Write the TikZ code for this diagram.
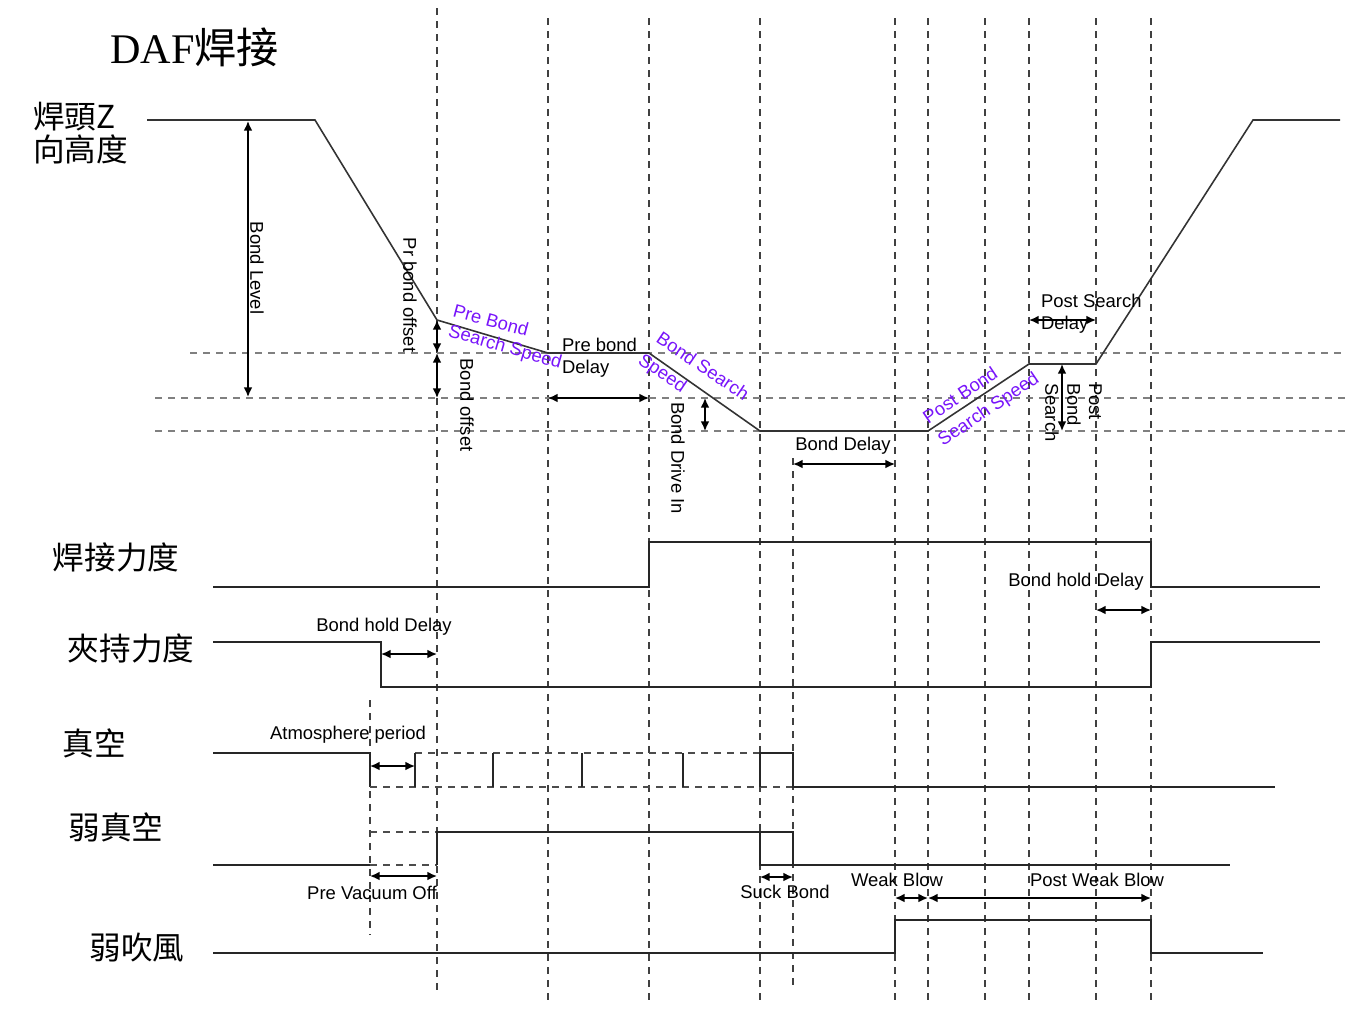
\documentclass[tikz,border=0pt]{standalone}
\usepackage{fontspec}
\setmainfont{Liberation Sans}
\newfontfamily\cjk{Noto Sans CJK TC}
\newfontfamily\titlefont{Liberation Serif}
\usepackage{xcolor}
\usetikzlibrary{arrows.meta}
\definecolor{labelpurple}{RGB}{120,20,250}

\begin{document}
\begin{tikzpicture}[
  x=0.02cm, y=-0.02cm,
  font=\fontsize{10.5}{12.5}\selectfont,
  sig/.style={line width=1.1pt, black!85},
  prof/.style={line width=0.9pt, black!80},
  guide/.style={line width=0.9pt, black!75, dash pattern=on 4pt off 3.4pt},
  hguide/.style={line width=0.9pt, black!50, dash pattern=on 4pt off 3.4pt},
  sigdash/.style={line width=0.9pt, black!70, dash pattern=on 4pt off 3.4pt},
  dimarr/.style={{Latex[length=5.5pt,width=5pt]}-{Latex[length=5.5pt,width=5pt]}, line width=0.9pt},
  lbl/.style={inner sep=1pt},
  vlbl/.style={lbl, rotate=-90},
  slant/.style={inner sep=0pt, text=labelpurple},
  cn/.style={font=\cjk\fontsize{18}{19}\selectfont, inner sep=0pt}
]
\useasboundingbox (0,0) rectangle (1358,1025);

% guide lines
\foreach \gx in {548,649,760,895,928,985,1029,1096,1151}
  \draw[guide] (\gx,18) -- (\gx,1000);
\draw[guide] (437,8) -- (437,990);
\draw[guide] (370,700) -- (370,935);
\draw[guide] (793,458) -- (793,990);
\foreach \gy/\gs in {353/190,398/155,431/155}
  \draw[hguide] (\gs,\gy) -- (1345,\gy);

% titles and signal names
\node[anchor=west, inner sep=0pt] (title) at (110,47) {\fontsize{24}{28}\selectfont\titlefont DAF\cjk 焊接};
\node[cn, anchor=west, align=left] (zhead) at (33,133) {焊頭Z\\向高度};
\node[cn] (weldforce) at (116,557) {焊接力度};
\node[cn] (clampforce) at (131,648) {夾持力度};
\node[cn] (vacuum) at (94,743) {真空};
\node[cn] (weakvac) at (116,827) {弱真空};
\node[cn] (weakblow) at (137,948) {弱吹風};

% bond head z profile
\coordinate (z0) at (147,120);
\coordinate (z1) at (315,120);
\coordinate (z2) at (437,320);
\coordinate (z3) at (548,353);
\coordinate (z4) at (649,353);
\coordinate (z5) at (760,431);
\coordinate (z6) at (928,431);
\coordinate (z7) at (1029,364);
\coordinate (z8) at (1096,364);
\coordinate (z9) at (1253,120);
\coordinate (z10) at (1340,120);
\draw[prof] (z0) -- (z1) -- (z2) -- (z3) -- (z4) -- (z5) -- (z6) -- (z7) -- (z8) -- (z9) -- (z10);

% signals
\draw[sig] (213,587) -- (649,587) -- (649,542) -- (1151,542) -- (1151,587) -- (1320,587);
\draw[sig] (213,642) -- (381,642) -- (381,687) -- (1151,687) -- (1151,642) -- (1320,642);
\draw[sig] (213,753) -- (370,753) -- (370,787);
\draw[sigdash] (370,787) -- (793,787);
\draw[sigdash] (415,753) -- (760,753);
\foreach \px in {415,493,582,683}
  \draw[sig] (\px,753) -- (\px,787);
\draw[sig] (760,787) -- (760,753) -- (793,753) -- (793,787) -- (1275,787);
\draw[sig] (213,865) -- (370,865);
\draw[sigdash] (370,832) -- (437,832);
\draw[sigdash] (370,865) -- (437,865);
\draw[sig] (437,865) -- (437,832) -- (793,832) -- (793,865);
\draw[sig] (760,832) -- (760,865) -- (1230,865);
\draw[sig] (213,953) -- (895,953) -- (895,920) -- (1151,920) -- (1151,953) -- (1263,953);

% dimension arrows
\draw[dimarr] (248,121) -- (248,397);
\draw[dimarr] (437,320) -- (437,353);
\draw[dimarr] (437,353) -- (437,398);
\draw[dimarr] (548,398) -- (649,398);
\draw[dimarr] (705,398) -- (705,431);
\draw[dimarr] (793,464) -- (895,464);
\draw[dimarr] (1029,320) -- (1096,320);
\draw[dimarr] (1062,364) -- (1062,431);
\draw[dimarr] (1096,610) -- (1151,610);
\draw[dimarr] (381,654) -- (437,654);
\draw[dimarr] (370,766) -- (415,766);
\draw[dimarr] (370,876) -- (437,876);
\draw[dimarr] (760,877) -- (793,877);
\draw[dimarr] (895,898) -- (928,898);
\draw[dimarr] (928,898) -- (1151,898);

% labels
\node[vlbl] (bondlevel) at (257,268) {Bond Level};
\node[vlbl] (prbondoff) at (410,295) {Pr bond offset};
\node[vlbl] (bondoff) at (467,405) {Bond offset};
\node[vlbl] (driveIn) at (678,458) {Bond Drive In};
\node[vlbl, align=left, anchor=north west] (postbs) at (1104,381) {Post\\Bond\\Search};
\node[slant, rotate=-15] (prebs1) at (491,320) {Pre Bond};
\node[slant, rotate=-16] (prebs2) at (505,348) {Search Speed};
\node[slant, rotate=-34] (bs1) at (703,366) {Bond Search};
\node[slant, rotate=-34] (bs2) at (662,374) {Speed};
\node[slant, rotate=34] (pbs1) at (960,395) {Post Bond};
\node[slant, rotate=34] (pbs2) at (989,410) {Search Speed};
\node[lbl, align=left, anchor=north west] (prebd) at (560,336) {Pre bond\\Delay};
\node[lbl] (bonddelay) at (843,446) {Bond Delay};
\node[lbl, align=left, anchor=north west] (postsd) at (1039,292) {Post Search\\Delay};
\node[lbl] (holdR) at (1076,582) {Bond hold Delay};
\node[lbl] (holdL) at (384,627) {Bond hold Delay};
\node[lbl] (atmo) at (348,735) {Atmosphere period};
\node[lbl] (prevac) at (372,893) {Pre Vacuum Off};
\node[lbl] (suck) at (785,892) {Suck Bond};
\node[lbl] (wblow) at (897,880) {Weak Blow};
\node[lbl] (pwblow) at (1097,880) {Post Weak Blow};
\end{tikzpicture}
\end{document}
